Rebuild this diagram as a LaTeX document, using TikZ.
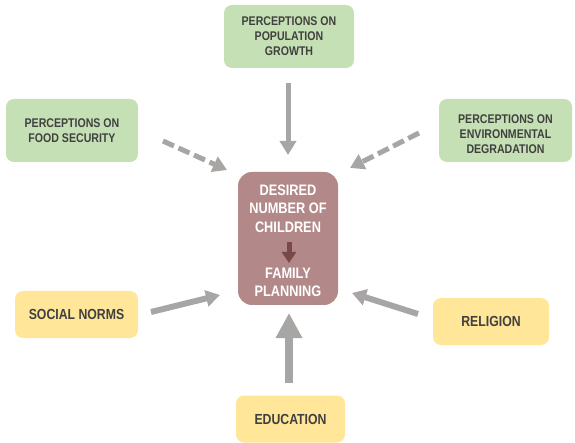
\documentclass[tikz,border=0pt]{standalone}
\usepackage{fontspec}
\setmainfont[FakeStretch=0.84]{Liberation Sans}
\usetikzlibrary{arrows.meta}
\definecolor{boxgreen}{RGB}{197,224,180}
\definecolor{boxyellow}{RGB}{255,230,153}
\definecolor{boxrose}{RGB}{178,136,136}
\definecolor{arrgray}{RGB}{168,165,165}
\definecolor{arrdark}{RGB}{122,72,72}
\definecolor{txtgray}{RGB}{64,64,64}
\begin{document}
\begin{tikzpicture}[x=1pt,y=-1pt,
  greenbox/.style={rectangle,rounded corners=8pt,fill=boxgreen,inner sep=0pt,align=center,text=txtgray,font=\fontsize{12.6}{15}\selectfont\bfseries},
  yellowbox/.style={rectangle,rounded corners=8pt,fill=boxyellow,inner sep=0pt,align=center,text=txtgray,font=\fontsize{14.6}{17}\selectfont\bfseries},
  centertext/.style={inner sep=0pt,align=center,text=white,font=\fontsize{15.2}{18.5}\selectfont\bfseries},
  solidarrow/.style={draw=arrgray,line width=5pt,-{Triangle[width=16pt,length=14pt,fill=arrgray]}},
  dasharrow/.style={draw=arrgray,line width=5pt,dash pattern=on 12pt off 5pt,-{Triangle[width=16pt,length=14pt,fill=arrgray]}}
]
\useasboundingbox (0,0) rectangle (575,443);

% boxes
\node[greenbox,minimum width=130pt,minimum height=63pt] (pop) at (289,36.5) {PERCEPTIONS ON\\POPULATION\\GROWTH};
\node[greenbox,minimum width=132pt,minimum height=63pt] (food) at (72,130.5) {PERCEPTIONS ON\\FOOD SECURITY};
\node[greenbox,minimum width=133pt,minimum height=63pt] (env) at (505.5,130.5) {};
\node[inner sep=0pt,align=center,text=txtgray,font=\fontsize{12.6}{15}\selectfont\bfseries] (envtxt) at (505.5,134) {PERCEPTIONS ON\\ENVIRONMENTAL\\DEGRADATION};
\node[yellowbox,minimum width=123pt,minimum height=47pt] (social) at (76.5,314.5) {SOCIAL NORMS};
\node[yellowbox,minimum width=116pt,minimum height=47pt] (religion) at (491,321.5) {RELIGION};
\node[yellowbox,minimum width=109pt,minimum height=47pt] (education) at (290.5,419) {EDUCATION};

% centre
\node[rectangle,rounded corners=14pt,fill=boxrose,minimum width=100pt,minimum height=133pt] (fp) at (288,238.5) {};
\node[centertext] (desired) at (288,208.5) {DESIRED\\NUMBER OF\\CHILDREN};
\node[centertext] (planning) at (288,282.5) {FAMILY\\PLANNING};
\coordinate (dA) at (289,242);
\coordinate (dB) at (289,263);
\draw[draw=arrdark,line width=5pt,-{Triangle[width=14pt,length=11pt,fill=arrdark]}] (dA) -- (dB);

% connectors
\coordinate (popA) at (288,83);
\coordinate (popB) at (288,155);
\draw[solidarrow] (popA) -- (popB);

\coordinate (foodA) at (163,141);
\coordinate (foodB) at (227,170);
\draw[dasharrow] (foodA) -- (foodB);

\coordinate (envA) at (419,133);
\coordinate (envB) at (350,168);
\draw[dasharrow] (envA) -- (envB);

\coordinate (socA) at (151,312);
\coordinate (socB) at (220,295);
\draw[solidarrow,line width=6pt] (socA) -- (socB);

\coordinate (relA) at (418,314);
\coordinate (relB) at (352,293);
\draw[solidarrow,line width=6pt] (relA) -- (relB);

\coordinate (eduA) at (289,383);
\coordinate (eduB) at (289,313);
\draw[draw=arrgray,line width=8.5pt,-{Triangle[width=25pt,length=25pt,fill=arrgray]}] (eduA) -- (eduB);
\end{tikzpicture}
\end{document}
